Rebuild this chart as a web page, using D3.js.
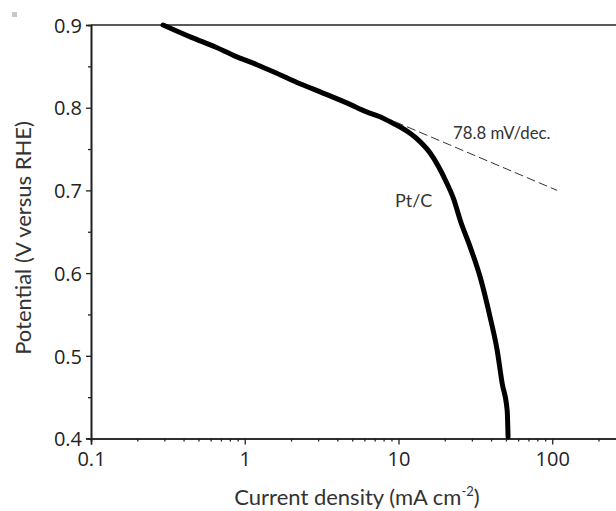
<!DOCTYPE html>
<html>
<head>
<meta charset="utf-8">
<script src="https://cdn.jsdelivr.net/npm/d3@7"></script>
<style>
  html, body { margin: 0; padding: 0; background: #fff; }
  svg { display: block; }
</style>
</head>
<body>
<svg id="chart" width="616" height="511"></svg>
<script>
// Polarization curve of Pt/C: current density (mA cm^-2) vs potential (V vs RHE)
const currentDensity = [0.294, 0.45, 0.65, 0.85, 1.2, 1.6, 2.29, 3.2, 4.84, 6.2, 7.59, 8.82, 10.2, 11.9, 13.8, 16.1, 18.2, 20.6, 22.8, 25.2, 29.2, 34.0, 39.4, 43.8, 47.2, 50.9, 51.6];
const potential      = [0.900, 0.885, 0.873, 0.863, 0.852, 0.842, 0.829, 0.818, 0.804, 0.795, 0.789, 0.783, 0.777, 0.769, 0.759, 0.745, 0.729, 0.709, 0.690, 0.664, 0.632, 0.595, 0.547, 0.507, 0.467, 0.434, 0.402];

// Tafel fit segment
const tafelX = [9.51, 107.6];
const tafelY = [0.783, 0.700];
const tafelLabel = "78.8 mV/dec.";
const seriesLabel = "Pt/C";

const xTickValues = [0.1, 1, 10, 100];
const xTickLabels = ["0.1", "1", "10", "100"];
const yTickValues = [0.4, 0.5, 0.6, 0.7, 0.8, 0.9];
const yTickLabels = ["0.4", "0.5", "0.6", "0.7", "0.8", "0.9"];

const svg = d3.select("#chart");
const x = d3.scaleLog().domain([0.1, 1000]).range([91, 706]);
const y = d3.scaleLinear().domain([0.4, 0.9]).range([438.5, 25]);

const axisColor = "#222";
const tickFont = "'Open Sans', sans-serif";
const labelFont = "Lato, 'Open Sans', sans-serif";

// small corner marker
svg.append("rect").attr("x", 12).attr("y", 12).attr("width", 5).attr("height", 5).attr("fill", "#c8c8c8");

// minor ticks
const xMinor = [];
[0.1, 1, 10, 100].forEach(d => { for (let k = 2; k <= 9; k++) xMinor.push(d * k); });
const yMinor = [0.45, 0.55, 0.65, 0.75, 0.85];

const xAxisMinor = svg.append("g").attr("transform", `translate(0,${y(0.4)})`)
  .call(d3.axisBottom(x).tickValues(xMinor).tickSize(3).tickFormat(""));
const yAxisMinor = svg.append("g").attr("transform", `translate(${x(0.1)},0)`)
  .call(d3.axisLeft(y).tickValues(yMinor).tickSize(3).tickFormat(""));

const xAxis = svg.append("g").attr("transform", `translate(0,${y(0.4)})`)
  .call(d3.axisBottom(x).tickValues(xTickValues).tickSize(6).tickPadding(7)
    .tickFormat((d, i) => xTickLabels[i]));
const yAxis = svg.append("g").attr("transform", `translate(${x(0.1)},0)`)
  .call(d3.axisLeft(y).tickValues(yTickValues).tickSize(5).tickPadding(4)
    .tickFormat((d, i) => yTickLabels[i]));

[xAxisMinor, yAxisMinor, xAxis, yAxis].forEach(g => {
  g.select(".domain").attr("stroke", axisColor).attr("stroke-width", 1.6);
  g.selectAll(".tick line").attr("stroke", axisColor).attr("stroke-width", 1.3);
  g.selectAll(".tick text").attr("fill", "#222").style("font-family", tickFont).style("font-size", "20px");
});
yAxis.selectAll(".tick text").attr("dy", "0.36em");

// top frame line
svg.append("line").attr("x1", x(0.1)).attr("x2", x(1000)).attr("y1", y(0.9)).attr("y2", y(0.9))
  .attr("stroke", axisColor).attr("stroke-width", 1.6);

// curve
const line = d3.line().x(d => x(d[0])).y(d => y(d[1])).curve(d3.curveMonotoneX);
const pts = currentDensity.map((c, i) => [c, potential[i]]);
svg.append("path").datum(pts).attr("d", line)
  .attr("fill", "none").attr("stroke", "#000").attr("stroke-width", 5)
  .attr("stroke-linejoin", "round").attr("stroke-linecap", "round");

// Tafel dashed line
svg.append("line")
  .attr("x1", x(tafelX[0])).attr("y1", y(tafelY[0]))
  .attr("x2", x(tafelX[1])).attr("y2", y(tafelY[1]))
  .attr("stroke", "#333").attr("stroke-width", 1).attr("stroke-dasharray", "9,4");

svg.append("text").attr("x", 453).attr("y", 139)
  .style("font-family", labelFont).style("font-size", "16.8px").attr("fill", "#333")
  .text(tafelLabel);

svg.append("text").attr("x", 395).attr("y", 207)
  .style("font-family", labelFont).style("font-size", "18px").attr("fill", "#333")
  .text(seriesLabel);

// axis titles
const xt = svg.append("text").attr("x", 357).attr("y", 505).attr("text-anchor", "middle")
  .style("font-family", labelFont).style("font-size", "22px").attr("fill", "#333");
xt.append("tspan").text("Current density (mA cm");
xt.append("tspan").attr("dy", -9).style("font-size", "13px").text("-2");
xt.append("tspan").attr("dy", 9).text(")");

svg.append("text").attr("transform", "translate(31,238) rotate(-90)").attr("text-anchor", "middle")
  .style("font-family", labelFont).style("font-size", "22px").attr("fill", "#333")
  .text("Potential (V versus RHE)");
</script>
</body>
</html>
